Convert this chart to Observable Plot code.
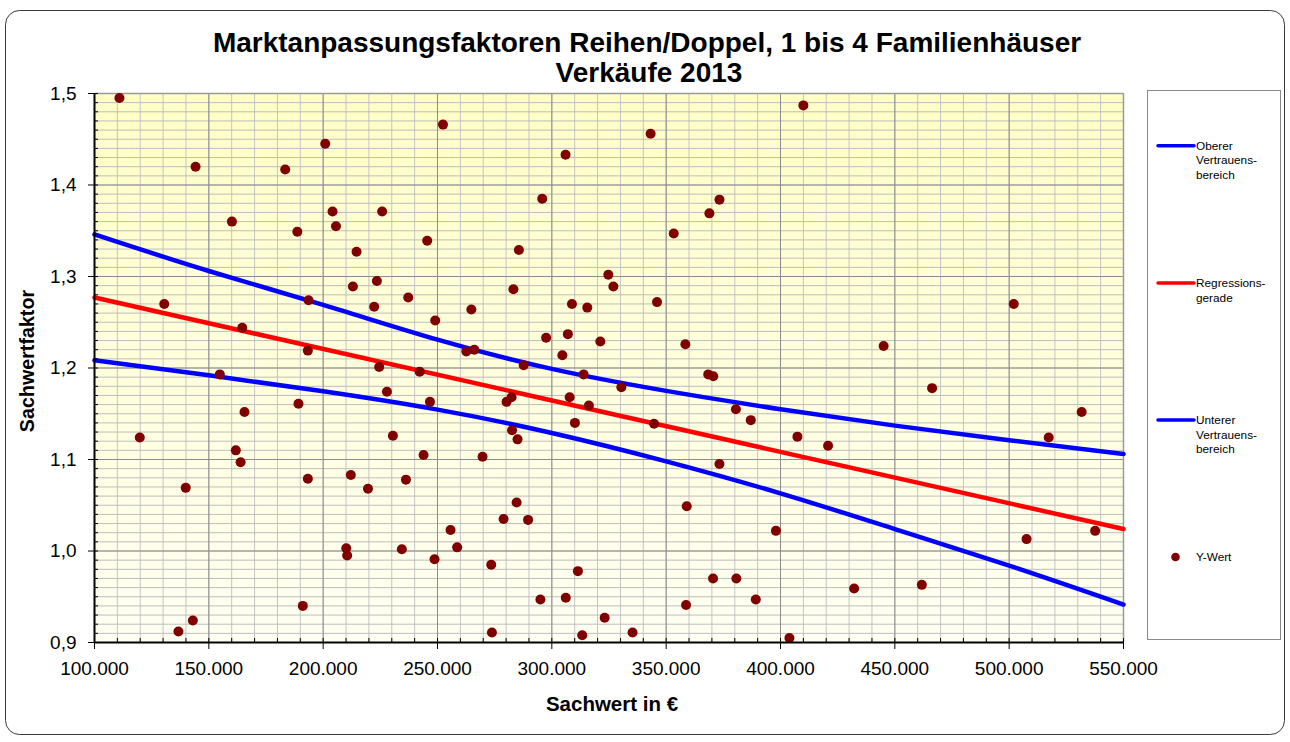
<!DOCTYPE html>
<html>
<head>
<meta charset="utf-8">
<script src="https://cdn.jsdelivr.net/npm/d3@7"></script>
<script src="https://cdn.jsdelivr.net/npm/@observablehq/plot@0.6"></script>
<style>
html, body { margin: 0; padding: 0; background: #fff; }
#chart { position: relative; width: 1290px; height: 742px; }
</style>
</head>
<body>
<div id="chart"></div>
<script>
// ---- data ----
const sachwert = [
  110900, 119800, 130500, 136700, 139900, 143000, 144200, 154800, 160100, 161800,
  163900, 164600, 165600, 183400, 188700, 189200, 191100, 193300, 193300, 193600,
  200900, 204100, 205600, 210100, 210500, 212100, 213000, 214600, 219600, 222300,
  223500, 224500, 225800, 227900, 230500, 234400, 236200, 237200, 242200, 243900,
  245500, 246700, 248700, 249000, 252400, 255700, 258600, 262600, 264800, 266100,
  269700, 273500, 273800, 278900, 280200, 282400, 282600, 283200, 284600, 285000,
  285600, 287700, 289600, 295000, 295800, 297500, 304600, 306000, 306100, 307000,
  307800, 308800, 310100, 311400, 313300, 313900, 315500, 316200, 321200, 323100,
  324700, 326900, 330400, 335300, 343200, 344700, 346000, 353300, 358400, 358700,
  359000, 368400, 368900, 370500, 370600, 373300, 373300, 380500, 380700, 387000,
  389200, 398000, 403900, 407400, 410000, 420800, 432200, 445100, 461800, 466300,
  502000, 507600, 517300, 531700, 537600
];
const faktor = [
  1.495, 1.124, 1.270, 0.912, 1.069, 0.924, 1.420, 1.193, 1.360, 1.110,
  1.097, 1.244, 1.152, 1.417, 1.349, 1.161, 0.940, 1.079, 1.219, 1.274,
  1.445, 1.371, 1.355, 1.003, 0.995, 1.083, 1.289, 1.327, 1.068, 1.267,
  1.295, 1.201, 1.371, 1.174, 1.126, 1.002, 1.078, 1.277, 1.196, 1.105,
  1.339, 1.163, 0.991, 1.252, 1.466, 1.023, 1.004, 1.218, 1.264, 1.220,
  1.103, 0.985, 0.911, 1.035, 1.163, 1.168, 1.132, 1.286, 1.053, 1.122,
  1.329, 1.203, 1.034, 0.947, 1.385, 1.233, 1.214, 1.433, 0.949, 1.237,
  1.168, 1.270, 1.140, 0.978, 0.908, 1.193, 1.266, 1.159, 1.229, 0.927,
  1.302, 1.289, 1.179, 0.911, 1.456, 1.139, 1.272, 1.347, 1.226, 0.941,
  1.049, 1.193, 1.369, 0.970, 1.191, 1.384, 1.095, 1.155, 0.970, 1.143,
  0.947, 1.022, 0.905, 1.125, 1.487, 1.115, 0.959, 1.224, 0.963, 1.178,
  1.270, 1.013, 1.124, 1.152, 1.022
];
const kurveX  = [100000, 150000, 200000, 250000, 300000, 350000, 400000, 450000, 500000, 550000];
const oberer  = [1.346, 1.306, 1.269, 1.231, 1.199, 1.175, 1.155, 1.137, 1.121, 1.106];
const unterer = [1.2085, 1.192, 1.1745, 1.1545, 1.129, 1.098, 1.063, 1.024, 0.984, 0.9415];
const regX = [100000, 550000];
const regY = [1.277, 1.024];

const xDomain = [100000, 550000];
const yDomain = [0.9, 1.5];
const xMajor = [100000, 150000, 200000, 250000, 300000, 350000, 400000, 450000, 500000, 550000];
const yMajor = [0.9, 1.0, 1.1, 1.2, 1.3, 1.4, 1.5];
const xMinor = d3.range(100000, 550001, 10000);
const yMinor = d3.range(90, 151).map(d => d / 100);

const titel1 = "Marktanpassungsfaktoren Reihen/Doppel, 1 bis 4 Familienhäuser";
const titel2 = "Verkäufe 2013";
const xTitel = "Sachwert in €";
const yTitel = "Sachwertfaktor";
const legende = [
  {lines: ["Oberer", "Vertrauens-", "bereich"], type: "line", color: "#0000ff", y: 145.7},
  {lines: ["Regressions-", "gerade"], type: "line", color: "#ff0000", y: 283},
  {lines: ["Unterer", "Vertrauens-", "bereich"], type: "line", color: "#0000ff", y: 420},
  {lines: ["Y-Wert"], type: "dot", color: "#800000", y: 557}
];

// ---- build ----
const locale = d3.formatLocale({decimal: ",", thousands: ".", grouping: [3], currency: ["", " €"]});
const fmtX = locale.format(",");
const fmtY = locale.format(".1f");

const points = sachwert.map((x, i) => ({x, y: faktor[i]}));
const band = kurveX.map((x, i) => ({x, oben: oberer[i], unten: unterer[i]}));
const reg = regX.map((x, i) => ({x, y: regY[i]}));

const W = 1290, H = 742;
const mL = 94, mR = 167, mT = 93, mB = 100;
const plotW = W - mL - mR, plotH = H - mT - mB;

const svg = Plot.plot({
  width: W, height: H,
  marginLeft: mL, marginRight: mR, marginTop: mT, marginBottom: mB,
  x: {type: "linear", domain: xDomain},
  y: {type: "linear", domain: yDomain},
  style: {fontFamily: "'Liberation Sans', Arial, sans-serif", background: "transparent", color: "black", overflow: "visible"},
  marks: [
    Plot.frame({fill: "url(#bgGrad)", stroke: "none"}),
    Plot.gridX(xMinor, {stroke: "#c4c4c4", strokeOpacity: 1, strokeWidth: 1}),
    Plot.gridY(yMinor, {stroke: "#bdbdbd", strokeOpacity: 1, strokeWidth: 1}),
    Plot.gridX(xMajor, {stroke: "#8c8c8c", strokeOpacity: 1, strokeWidth: 1}),
    Plot.gridY(yMajor, {stroke: "#8c8c8c", strokeOpacity: 1, strokeWidth: 1}),
    Plot.ruleY([yDomain[1]], {stroke: "#9a9a9a", strokeWidth: 1.5}),
    Plot.ruleX([xDomain[1]], {stroke: "#9a9a9a", strokeWidth: 1.5}),
    Plot.line(band, {x: "x", y: "oben", stroke: "#0000ff", strokeWidth: 4.5, curve: "natural"}),
    Plot.line(reg, {x: "x", y: "y", stroke: "#ff0000", strokeWidth: 4.5}),
    Plot.line(band, {x: "x", y: "unten", stroke: "#0000ff", strokeWidth: 4.5, curve: "natural"}),
    Plot.dot(points, {x: "x", y: "y", r: 5, fill: "#800000", stroke: "none"}),
    Plot.tickX(xMinor, {x: d => d, stroke: "black", insetTop: plotH - 4}),
    Plot.tickY(yMinor, {y: d => d, stroke: "black", insetRight: plotW - 4}),
    Plot.ruleY([yDomain[0]], {stroke: "black", strokeWidth: 2}),
    Plot.ruleX([xDomain[0]], {stroke: "black", strokeWidth: 2}),
    Plot.axisX(xMajor, {anchor: "bottom", tickSize: 7, tickPadding: 12, tickFormat: fmtX, fontSize: 19, label: null, stroke: "black"}),
    Plot.axisY(yMajor, {anchor: "left", tickSize: 6, tickPadding: 12, tickFormat: fmtY, fontSize: 19, label: null, stroke: "black"})
  ]
});

const s = d3.select(svg);
const defs = s.insert("defs", ":first-child");
const g = defs.append("linearGradient").attr("id", "bgGrad").attr("x1", 0).attr("y1", 0).attr("x2", 0).attr("y2", 1);
g.append("stop").attr("offset", "0%").attr("stop-color", "#ffffc6");
g.append("stop").attr("offset", "100%").attr("stop-color", "#fffff3");

// outer rounded border
s.append("rect").attr("x", 5.5).attr("y", 10.5).attr("width", 1279).attr("height", 724)
  .attr("rx", 14).attr("fill", "none").attr("stroke", "#3a3a3a").attr("stroke-width", 1);

// title
const tf = "'Liberation Sans', Arial, sans-serif";
s.append("text").attr("x", 647).attr("y", 52).attr("text-anchor", "middle")
  .attr("font-family", tf).attr("font-weight", "bold").attr("font-size", 28).attr("fill", "black").text(titel1);
s.append("text").attr("x", 649).attr("y", 82).attr("text-anchor", "middle")
  .attr("font-family", tf).attr("font-weight", "bold").attr("font-size", 28).attr("fill", "black").text(titel2);

// axis titles
s.append("text").attr("x", 612).attr("y", 711).attr("text-anchor", "middle")
  .attr("font-family", tf).attr("font-weight", "bold").attr("font-size", 20.5).attr("fill", "black").text(xTitel);
s.append("text").attr("transform", "translate(34,361) rotate(-90)").attr("text-anchor", "middle")
  .attr("font-family", tf).attr("font-weight", "bold").attr("font-size", 19.7).attr("fill", "black").text(yTitel);

// legend
s.append("rect").attr("x", 1147.5).attr("y", 90.5).attr("width", 133).attr("height", 549)
  .attr("fill", "white").attr("stroke", "#8a8a8a").attr("stroke-width", 1);
for (const e of legende) {
  if (e.type === "line") {
    s.append("line").attr("x1", 1158).attr("x2", 1194).attr("y1", e.y).attr("y2", e.y)
      .attr("stroke", e.color).attr("stroke-width", 3.5).attr("stroke-linecap", "round");
  } else {
    s.append("circle").attr("cx", 1175.5).attr("cy", e.y).attr("r", 4.3).attr("fill", e.color);
  }
  e.lines.forEach((t, i) => {
    s.append("text").attr("x", 1196).attr("y", e.y + 4.2 + i * 14.3).attr("text-anchor", "start")
      .attr("font-family", tf).attr("font-size", 11.8).attr("fill", "black").text(t);
  });
}

document.getElementById("chart").appendChild(svg);
</script>
</body>
</html>
